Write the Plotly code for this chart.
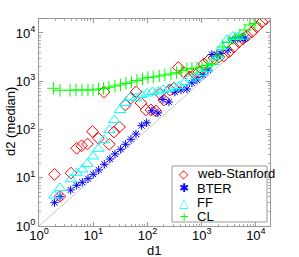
import plotly.graph_objects as go

# web-Stanford (red diamonds)
ws_d1 = [1.93, 2.44, 3.89, 4.95, 6.12, 7.83, 9.7, 12.5, 15.8, 19.8, 24.1, 30.5, 39.3, 49.6,
         61.4, 75.9, 93.8, 116, 143, 170, 201, 260, 308, 370, 471, 607, 751, 890, 1100, 1360,
         1683, 2080, 2572, 3178, 3929, 4860, 5759, 6824, 8437, 10430, 12900, 15290]
ws_d2 = [11.7, 4.1, 12.5, 40.8, 45.9, 50, 91, 65.7, 599, 49.4, 88.7, 113, 322, 450,
         599, 354, 254, 254, 242, 557, 408, 659, 725, 1928, 1518, 1225, 1413, 1555, 2280, 2757,
         3033, 3183, 3337, 4038, 5129, 6506, 7516, 8670, 10490, 13310, 16900, 19500]

# BTER (blue stars)
bter_d1 = [1.93, 2.44, 3.84, 4.95, 6.28, 8.0, 10.0, 12.6, 16.0, 20.3, 25.2, 32.1, 39.6, 49.6,
           61.4, 78.2, 96.6, 121, 156, 193, 249, 321, 415, 535, 661, 817, 1054, 1304, 1545,
           1911, 2263, 3048, 3767, 4660, 5760, 6400]
bter_d2 = [3.04, 4.05, 5.57, 6.98, 8.05, 9.57, 11.8, 14.5, 19.0, 24.5, 31.1, 38.9, 49.4, 62.7,
           80.7, 120, 138, 245, 220, 419, 372, 598, 659, 691, 920, 1062, 1348, 1711, 3585,
           3585, 3760, 4445, 7160, 7516, 7516, 7880]

# FF (cyan triangles)
ff_d1 = [1.93, 2.44, 3.89, 4.95, 6.28, 7.83, 9.9, 12.5, 15.8, 19.9, 24.6, 31.1, 38.5, 47.6,
         61.4, 77.5, 97.9, 124, 156, 193, 244, 308, 389, 491, 634, 800, 1011, 1250, 1611,
         1994, 2362, 2920, 3767, 4656, 5759]
ff_d2 = [4.29, 6.13, 9.29, 12.7, 14.8, 19.3, 27.6, 39.8, 60.6, 97.7, 157, 254, 354, 460,
         450, 519, 557, 599, 613, 659, 691, 742, 797, 965, 1140, 1254, 1483, 1795, 2505,
         3185, 5130, 7160, 8460, 8260, 8460]

# CL (green plus)
cl_d1 = [1.85, 2.44, 3.73, 4.81, 6.2, 8.0, 9.9, 12.5, 15.5, 19.5, 25.2, 31.8, 40.1, 50.7,
         64.0, 80.9, 102, 128, 165, 210, 271, 345, 427, 535, 661, 817, 1011, 1250, 1545,
         1994, 2465, 3178, 4102, 5070, 6270, 7750, 9590]
cl_d2 = [714, 649, 649, 659, 659, 659, 659, 691, 707, 749, 797, 836, 898, 965,
         1037, 1114, 1197, 1225, 1285, 1348, 1413, 1503, 1670, 1795, 1837, 1883, 1928, 2120, 2279,
         3337, 5130, 6506, 7880, 9100, 11540, 14650, 15740]

diag = [1, 20000]

series_names = ["web-Stanford", "BTER", "FF", "CL"]
series_colors = ["#ff0000", "#0000ff", "#00ffff", "#00ff00"]
legend_glyphs = ["◇", "✱", "△", "+"]

x_title = "d1"
y_title = "d2 (median)"
tick_vals = [1, 10, 100, 1000, 10000]
tick_text = ["10<sup>0</sup>", "10<sup>1</sup>", "10<sup>2</sup>", "10<sup>3</sup>", "10<sup>4</sup>"]
minor_vals = [m * 10 ** e for e in range(0, 5) for m in range(2, 10)]

FONT = "Liberation Sans, Arial, sans-serif"

fig = go.Figure()
fig.add_trace(go.Scatter(x=diag, y=diag, mode="lines", line=dict(color="#c8c8c8", width=1),
                         showlegend=False, hoverinfo="skip"))
fig.add_trace(go.Scatter(x=ws_d1, y=ws_d2, mode="markers", name=series_names[0],
                         marker=dict(symbol="diamond-open", size=9, color=series_colors[0],
                                     line=dict(width=1, color=series_colors[0]))))
fig.add_trace(go.Scatter(x=bter_d1, y=bter_d2, mode="markers", name=series_names[1],
                         marker=dict(symbol="asterisk-open", size=7, color=series_colors[1],
                                     line=dict(width=1, color=series_colors[1]))))
fig.add_trace(go.Scatter(x=ff_d1, y=ff_d2, mode="markers", name=series_names[2],
                         marker=dict(symbol="triangle-up-open", size=10, color=series_colors[2],
                                     line=dict(width=1, color=series_colors[2]))))
fig.add_trace(go.Scatter(x=cl_d1, y=cl_d2, mode="markers", name=series_names[3],
                         marker=dict(symbol="cross-thin-open", size=9, color=series_colors[3],
                                     line=dict(width=1, color=series_colors[3]))))

axis_common = dict(
    type="log", showline=True, linecolor="#999999", linewidth=1, mirror="allticks",
    ticks="inside", ticklen=4, tickcolor="#999999", showgrid=False, zeroline=False,
    automargin=False,
    tickmode="array", tickvals=tick_vals, ticktext=tick_text,
    tickfont=dict(family=FONT, size=13, color="#000000"),
    minor=dict(ticks="inside", ticklen=2, tickcolor="#aaaaaa", tickvals=minor_vals, showgrid=False),
)

# manual legend (box + glyph + label)
L, R, T, B = 39, 270, 19, 226
W, H = R - L, B - T
def px(xp):
    return (xp - L) / W
def py(yp):
    return (B - yp) / H

shapes = [dict(type="rect", xref="paper", yref="paper",
               x0=px(172), x1=px(267), y0=py(222), y1=py(166),
               line=dict(color="#999999", width=1), fillcolor="white", layer="above")]
annotations = []
row_y = [173.7, 188.3, 202.7, 216.7]
for name, col, gl, yy in zip(series_names, series_colors, legend_glyphs, row_y):
    annotations.append(dict(xref="paper", yref="paper", x=px(184), y=py(yy), text=gl,
                            showarrow=False, xanchor="center", yanchor="middle",
                            font=dict(family="DejaVu Sans", size=12, color=col)))
    annotations.append(dict(xref="paper", yref="paper", x=px(195), y=py(yy), text=name,
                            showarrow=False, xanchor="left", yanchor="middle",
                            font=dict(family=FONT, size=13, color="#000000")))
# axis titles
annotations.append(dict(xref="paper", yref="paper", x=px(154), y=py(250), text=x_title,
                        showarrow=False, xanchor="center", yanchor="middle",
                        font=dict(family=FONT, size=13, color="#000000")))
annotations.append(dict(xref="paper", yref="paper", x=px(10), y=py(122), text=y_title,
                        showarrow=False, xanchor="center", yanchor="middle", textangle=-90,
                        font=dict(family=FONT, size=13, color="#000000")))

fig.update_layout(
    width=299, height=257,
    margin=dict(l=L, r=299 - R, t=T, b=257 - B),
    paper_bgcolor="white", plot_bgcolor="white",
    font=dict(family=FONT, size=13, color="#000000"),
    xaxis=dict(range=[0, 4.26], ticklabelstandoff=-3, **axis_common),
    yaxis=dict(range=[0, 4.29], **axis_common),
    shapes=shapes, annotations=annotations,
    showlegend=False,
)

fig.write_html("out.html", config={"displayModeBar": False},
               post_script="document.body.style.margin='0';document.body.style.padding='0';")
